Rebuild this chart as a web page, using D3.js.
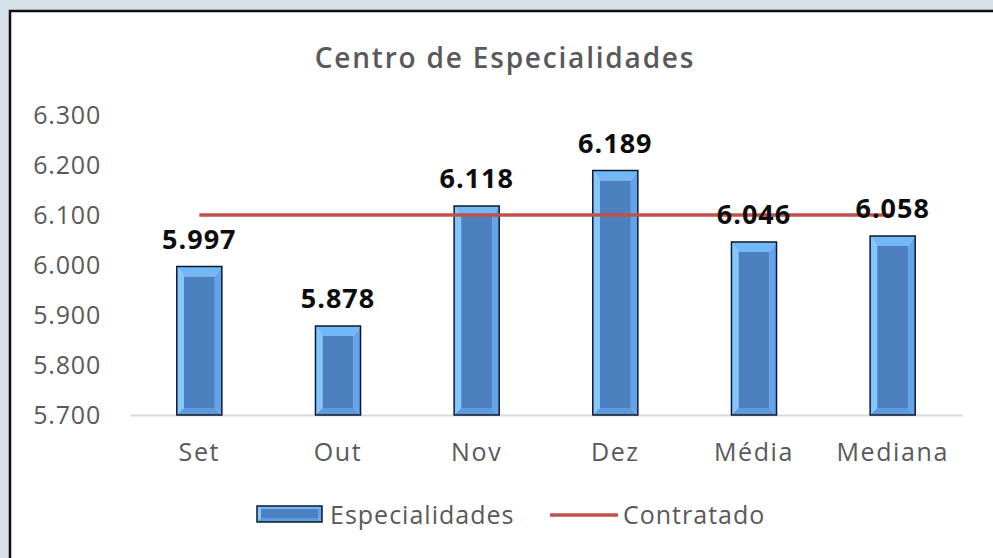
<!DOCTYPE html>
<html>
<head>
<meta charset="utf-8">
<script src="https://cdn.jsdelivr.net/npm/d3@7"></script>
<style>
  body { margin: 0; background: #d6e1ea; }
  svg { display: block; }
</style>
</head>
<body>
<div id="chart"></div>
<script>
// data
const categories = ["Set", "Out", "Nov", "Dez", "Média", "Mediana"]
const especialidades = [5.997, 5.878, 6.118, 6.189, 6.046, 6.058]
const contratado = [6.100, 6.100, 6.100, 6.100, 6.100, 6.100]
const yTicks = [5.7, 5.8, 5.9, 6.0, 6.1, 6.2, 6.3]

const W = 993, H = 558
const svg = d3.select("#chart").append("svg")
    .attr("width", W)
    .attr("height", H)

// slide frame
svg.append("rect")
    .attr("x", 9).attr("y", 10)
    .attr("width", W - 9).attr("height", 548)
    .attr("fill", "#ffffff")
svg.append("path")
    .attr("d", `M10,558 V11 H${W}`)
    .attr("fill", "none")
    .attr("stroke", "#111")
    .attr("stroke-width", 2.5)

const plot = {left: 130, right: 962, top: 115, bottom: 415}

const x = d3.scaleBand()
    .domain(categories)
    .range([plot.left, plot.right])
    .paddingInner(0.675)
    .paddingOuter(0.3375)

const y = d3.scaleLinear()
    .domain([5.7, 6.3])
    .range([plot.bottom, plot.top])

const fmt = d => d3.format(".3f")(d)

// title
svg.append("text")
    .attr("x", 505)
    .attr("y", 68)
    .attr("text-anchor", "middle")
    .style("font-family", "'Open Sans'")
    .style("font-weight", 600)
    .style("font-size", "28px")
    .style("letter-spacing", "1.8px")
    .style("fill", "#595959")
    .text("Centro de Especialidades")

// y axis (labels only)
const yAxis = svg.append("g")
    .attr("transform", `translate(${plot.left - 29},0)`)
    .call(d3.axisLeft(y).tickValues(yTicks).tickSize(0).tickPadding(0).tickFormat(fmt))
yAxis.select(".domain").remove()
yAxis.selectAll("text")
    .style("font-family", "'Open Sans'")
    .style("font-size", "25px")
    .style("letter-spacing", "0.8px")
    .style("fill", "#595959")

// x axis
const xAxis = svg.append("g")
    .attr("transform", `translate(0,${plot.bottom})`)
    .call(d3.axisBottom(x).tickSize(0).tickPadding(28))
xAxis.select(".domain")
    .attr("stroke", "#d9d9d9")
    .attr("stroke-width", 2)
xAxis.selectAll("text")
    .style("font-family", "'Open Sans'")
    .style("font-size", "25px")
    .style("letter-spacing", "1.6px")
    .style("fill", "#595959")

// bevelled bars
function bevel(sel, x0, y0, w, h, s, t) {
    const x1 = x0 + w, y1 = y0 + h
    const ix0 = x0 + s, ix1 = x1 - s, iy0 = y0 + t, iy1 = y1 - s
    sel.append("polygon").attr("points", `${x0},${y0} ${x1},${y0} ${ix1},${iy0} ${ix0},${iy0}`).attr("fill", "#72b8f7")
    sel.append("polygon").attr("points", `${x0},${y0} ${ix0},${iy0} ${ix0},${iy1} ${x0},${y1}`).attr("fill", "#82c7ff")
    sel.append("polygon").attr("points", `${x1},${y0} ${x1},${y1} ${ix1},${iy1} ${ix1},${iy0}`).attr("fill", "#62a3ec")
    sel.append("polygon").attr("points", `${x0},${y1} ${ix0},${iy1} ${ix1},${iy1} ${x1},${y1}`).attr("fill", "#5c9ae0")
    sel.append("rect").attr("x", ix0).attr("y", iy0).attr("width", ix1 - ix0).attr("height", iy1 - iy0).attr("fill", "#4d80bf")
    sel.append("rect").attr("x", x0).attr("y", y0).attr("width", w).attr("height", h)
        .attr("fill", "none").attr("stroke", "#0d1a2b").attr("stroke-width", 1.5)
}

const bars = svg.append("g")
especialidades.forEach(function(v, i) {
    const g = bars.append("g").attr("class", "bar")
    bevel(g, x(categories[i]), y(v), x.bandwidth(), plot.bottom - y(v), 7, 10)
})

// contratado line
const line = d3.line()
    .x((d, i) => x(categories[i]) + x.bandwidth() / 2)
    .y(d => y(d))
svg.append("path")
    .datum(contratado)
    .attr("d", line)
    .attr("fill", "none")
    .attr("stroke", "#c0504d")
    .attr("stroke-width", 3.5)

// data labels
svg.selectAll(".vlabel")
    .data(especialidades)
    .join("text")
    .attr("class", "vlabel")
    .attr("x", (d, i) => x(categories[i]) + x.bandwidth() / 2)
    .attr("y", d => y(d) - 18)
    .attr("text-anchor", "middle")
    .style("font-family", "'Open Sans'")
    .style("font-weight", 700)
    .style("font-size", "27px")
    .style("letter-spacing", "1px")
    .style("fill", "#0d0d0d")
    .text(fmt)

// legend
const lg = svg.append("g")
bevel(lg, 257, 506, 65, 16, 4, 3)
lg.append("text")
    .attr("x", 330).attr("y", 524)
    .style("font-family", "'Open Sans'")
    .style("font-size", "25px")
    .style("letter-spacing", "1px")
    .style("fill", "#595959")
    .text("Especialidades")
lg.append("line")
    .attr("x1", 550).attr("x2", 618)
    .attr("y1", 515).attr("y2", 515)
    .attr("stroke", "#c0504d")
    .attr("stroke-width", 3.5)
lg.append("text")
    .attr("x", 623).attr("y", 524)
    .style("font-family", "'Open Sans'")
    .style("font-size", "25px")
    .style("letter-spacing", "1px")
    .style("fill", "#595959")
    .text("Contratado")
</script>
</body>
</html>
